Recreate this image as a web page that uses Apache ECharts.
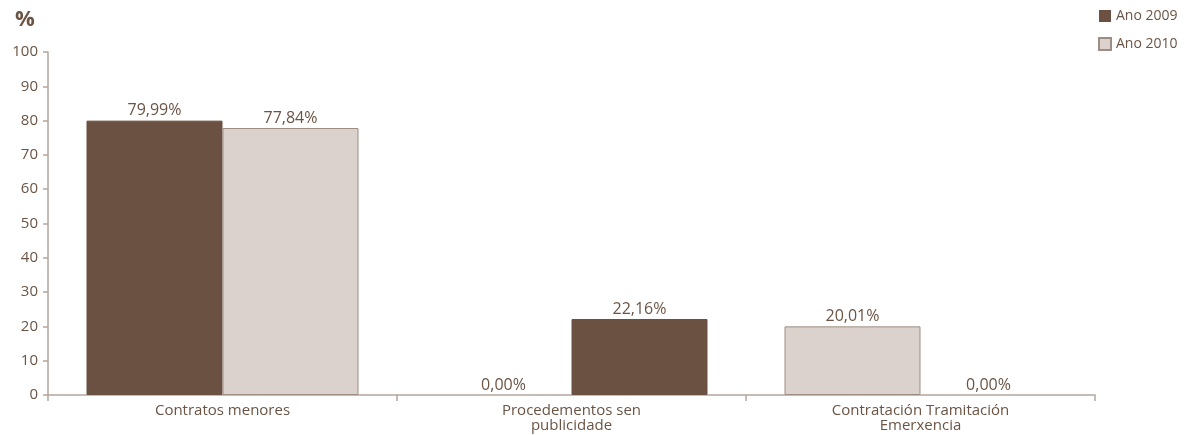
<!DOCTYPE html>
<html>
<head>
<meta charset="utf-8">
<script src="https://cdn.jsdelivr.net/npm/echarts@6/dist/echarts.min.js"></script>
<style>
  html, body { margin: 0; padding: 0; background: #ffffff; }
  #chart { width: 1189px; height: 435px; }
</style>
</head>
<body>
<div id="chart"></div>
<script>
// Contratación por tipo de procedemento (%)
const categories = ['Contratos menores', 'Procedementos sen\npublicidade', 'Contratación Tramitación\nEmerxencia'];
const seriesNames = ['Ano 2009', 'Ano 2010'];
const valuesFirst = [79.99, 0.00, 20.01];
const valuesSecond = [77.84, 22.16, 0.00];
const yTicks = [0, 10, 20, 30, 40, 50, 60, 70, 80, 90, 100];

const DARK = '#6a5142';
const LIGHT = '#dcd2cd';
const LIGHT_BORDER = '#9e8d83';
const TEXT = '#6b5444';
const AXIS = '#b3a69e';

// per-bar palette for each slot within a category
const firstSlotColours = [DARK, DARK, LIGHT];
const secondSlotColours = [LIGHT, DARK, LIGHT];

function styled(values, colours) {
  return values.map((v, i) => ({
    value: v,
    itemStyle: {
      color: colours[i],
      borderColor: colours[i] === LIGHT ? LIGHT_BORDER : colours[i],
      borderWidth: v === 0 ? 0 : 1
    }
  }));
}

const fmt = p => p.value.toFixed(2).replace('.', ',') + '%';
const font = '"Open Sans", sans-serif';

const chart = echarts.init(document.getElementById('chart'));
chart.setOption({
  animation: false,
  textStyle: { fontFamily: font },
  title: {
    text: '%', left: 10, top: 4,
    textStyle: { fontSize: 22, fontWeight: 'bold', color: TEXT, fontFamily: font }
  },
  legend: {
    orient: 'vertical', left: 1093, top: 4,
    itemWidth: 12, itemHeight: 12, itemGap: 14,
    icon: 'rect',
    textStyle: { fontSize: 14, color: TEXT, fontFamily: font },
    data: seriesNames
  },
  grid: { left: 48, right: 94, top: 52, bottom: 40 },
  xAxis: {
    type: 'category',
    data: categories,
    axisLine: { lineStyle: { color: AXIS, width: 1.5 } },
    axisTick: { show: true, alignWithLabel: false, length: 6, lineStyle: { color: AXIS, width: 1.5 } },
    axisLabel: { color: TEXT, fontSize: 15, margin: 8, lineHeight: 15, interval: 0, fontFamily: font }
  },
  yAxis: {
    type: 'value', min: yTicks[0], max: yTicks[yTicks.length - 1], interval: 10,
    splitLine: { show: false },
    axisLine: { show: true, lineStyle: { color: AXIS, width: 1.5 } },
    axisTick: { show: true, length: 5, lineStyle: { color: AXIS, width: 1.5 } },
    axisLabel: { color: TEXT, fontSize: 15, margin: 10, fontFamily: font }
  },
  series: [
    {
      name: seriesNames[0], type: 'bar', barWidth: 136, barGap: '0%',
      itemStyle: { color: DARK },
      label: { show: true, position: 'top', distance: 2, formatter: fmt, color: TEXT, fontSize: 16, fontFamily: font },
      data: styled(valuesFirst, firstSlotColours)
    },
    {
      name: seriesNames[1], type: 'bar', barWidth: 136, barGap: '0%',
      itemStyle: { color: LIGHT, borderColor: LIGHT_BORDER, borderWidth: 1 },
      label: { show: true, position: 'top', distance: 2, formatter: fmt, color: TEXT, fontSize: 16, fontFamily: font },
      data: styled(valuesSecond, secondSlotColours)
    }
  ]
});
</script>
</body>
</html>
